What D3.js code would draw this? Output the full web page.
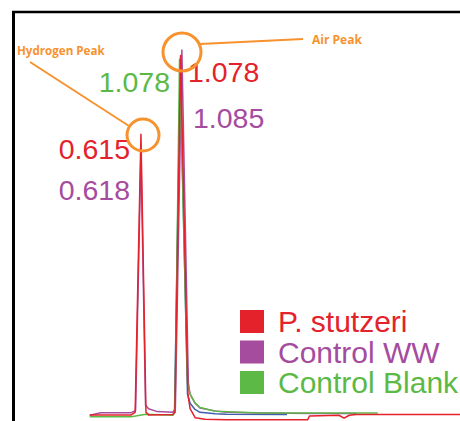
<!DOCTYPE html>
<html><head><meta charset="utf-8">
<script src="https://cdn.jsdelivr.net/npm/d3@7"></script>
<style>body{margin:0;background:#fff}svg{display:block}</style>
</head><body><svg id="c" width="460" height="421"></svg>
<script>
// ---- data (retention time in min, detector signal in arbitrary units) ----
const legendNames = ["P. stutzeri", "Control WW", "Control Blank"];
const redTime  = [0.02,0.50,0.545,0.612,0.67,0.70,0.98,1.005,1.07,1.155,1.18,1.24,1.35,1.6,2.0,2.54,2.56,2.90,2.96,3.02,3.10,4.30];
const redVal   = [0.3,0.3,1.0,77,1.0,0.3,0.4,1.0,98.5,6,2.0,-0.5,-0.9,-1.0,-1.0,-1.0,0.0,0.2,-0.6,0.2,0.4,0.4];
const purpleTime = [0.02,0.15,0.50,0.55,0.612,0.665,0.70,0.80,0.98,1.01,1.085,1.16,1.18,1.237,1.295,1.47,1.6,2.0,2.6,3.10];
const purpleVal  = [0.2,0.9,0.9,1.5,72,3,2,1.2,1.0,2,100,9,6,3.5,2.2,1.4,1.0,0.8,0.7,0.7];
const greenTime  = [0.02,0.50,0.60,0.67,0.98,1.005,1.058,1.15,1.18,1.237,1.295,1.47,2.0,2.6,3.35];
const greenVal   = [-0.2,-0.2,0.2,0.5,0.2,1.0,97.5,9,6,3.6,2.3,1.3,0.8,0.8,0.8];
const blueTime   = [0.98,1.0,1.066,1.15,1.18,1.237,1.295,1.47,1.6,2.3];
const blueVal    = [0.3,1.0,95,6,3.5,1.8,1.0,0.6,0.5,0.4];
const peakLabels = [
  {text:"1.078", color:"#5cb946", anchor:"end"},
  {text:"1.078", color:"#e3222b", anchor:"start"},
  {text:"1.085", color:"#a54c9f", anchor:"start"},
  {text:"0.615", color:"#e3222b", anchor:"end"},
  {text:"0.618", color:"#a54c9f", anchor:"end"}
];

const svg = d3.select("#c");
const x = d3.scaleLinear().domain([0, 4.3]).range([88, 460]);
const y = d3.scaleLinear().domain([0, 100]).range([416, 50]);

// frame
svg.append("line").attr("x1",12).attr("x2",460).attr("y1",12).attr("y2",12).attr("stroke","#000").attr("stroke-width",2.5);
svg.append("line").attr("x1",13.5).attr("x2",13.5).attr("y1",11).attr("y2",421).attr("stroke","#000").attr("stroke-width",3);

const line = d3.line().x(d=>x(d[0])).y(d=>y(d[1]));
const series = [
  {t:blueTime, v:blueVal, c:"#3f5fae"},
  {t:purpleTime, v:purpleVal, c:"#a54c9f"},
  {t:greenTime, v:greenVal, c:"#5cb946"},
  {t:redTime, v:redVal, c:"#e3222b"}
];
series.forEach(s=>{
  svg.append("path").datum(s.t.map((t,i)=>[t,s.v[i]]))
    .attr("d",line).attr("fill","none").attr("stroke",s.c).attr("stroke-width",1.5).attr("stroke-linejoin","round");
});

// peak value labels
const labelPos = [[170,92],[188,82],[193,128],[130,159],[130,200]];
peakLabels.forEach((p,i)=>{
  svg.append("text").attr("x",labelPos[i][0]).attr("y",labelPos[i][1])
    .attr("text-anchor",p.anchor).attr("fill",p.color)
    .attr("font-family","Liberation Sans, Arial, sans-serif").attr("font-size",28.5)
    .text(p.text);
});

// annotations
const orange = "#f7922e";
svg.append("circle").attr("cx",143).attr("cy",135).attr("r",16).attr("fill","none").attr("stroke",orange).attr("stroke-width",3);
svg.append("circle").attr("cx",182).attr("cy",52).attr("r",19).attr("fill","none").attr("stroke",orange).attr("stroke-width",3);
svg.append("line").attr("x1",30).attr("y1",62).attr("x2",129).attr("y2",126).attr("stroke",orange).attr("stroke-width",2);
svg.append("line").attr("x1",200).attr("y1",44).attr("x2",303).attr("y2",39).attr("stroke",orange).attr("stroke-width",2);
svg.append("text").attr("x",17).attr("y",55).attr("fill",orange).attr("font-family","Open Sans, sans-serif").attr("font-weight","bold").attr("font-size",11.6).text("Hydrogen Peak");
svg.append("text").attr("x",312).attr("y",44).attr("fill",orange).attr("font-family","Open Sans, sans-serif").attr("font-weight","bold").attr("font-size",12).text("Air Peak");

// legend
const legColors = ["#e3222b","#a54c9f","#5cb946"];
legendNames.forEach((n,i)=>{
  const g = svg.append("g").attr("transform",`translate(240,${310+i*30.5})`);
  g.append("rect").attr("width",24).attr("height",23).attr("fill",legColors[i]);
  g.append("text").attr("x",38).attr("y",22).attr("fill",legColors[i])
    .attr("font-family","Liberation Sans, Arial, sans-serif").attr("font-size",30).text(n);
});
</script></body></html>
